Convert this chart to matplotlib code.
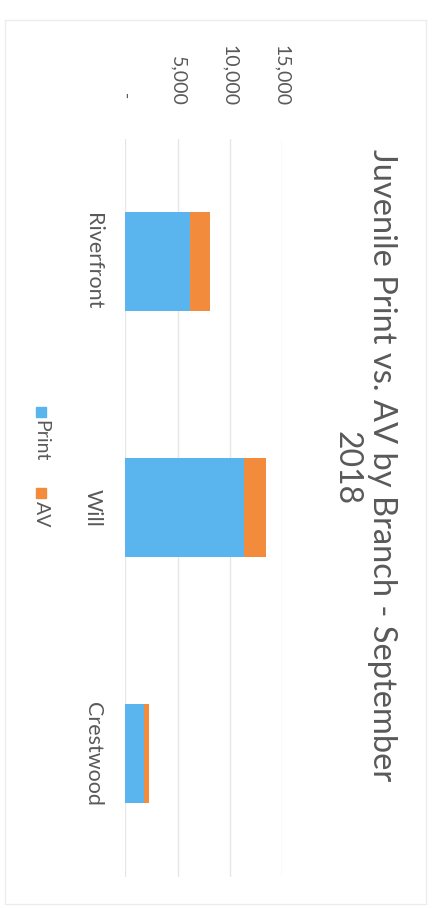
import matplotlib
matplotlib.use("Agg")
import matplotlib.pyplot as plt
from matplotlib.patches import Rectangle
from matplotlib.transforms import blended_transform_factory

# Data
branches = ["Riverfront", "Will", "Crestwood"]
print_counts = [6230, 11330, 1800]
av_counts = [1910, 2170, 480]
value_ticks = [0, 5000, 10000, 15000]
value_tick_labels = ["-", "5,000", "10,000", "15,000"]
title_lines = ["Juvenile Print vs. AV by Branch - September", "2018"]
series_names = ["Print", "AV"]

blue = "#5ab4ee"
orange = "#f28b3c"
text_col = "#595959"
grid_col = "#e6e6e6"
font = "Lato"

W, H = 435, 909
fig = plt.figure(figsize=(W / 100, H / 100), dpi=100)
fig.patch.set_facecolor("white")


def fx(px):
    return px / W


def fy(py):
    return 1 - py / H


# faint outer chart border
fig.patches.append(Rectangle((fx(5), fy(904)), fx(426) - fx(5), fy(20) - fy(904),
                             transform=fig.transFigure, fill=False,
                             edgecolor="#ececec", linewidth=1.0))

# plot area: values run left→right, categories top→bottom (page turned sideways)
left, right = 125.5, 282.0
top, bottom = 138.5, 876.5
ax = fig.add_axes([fx(left), fy(bottom), fx(right) - fx(left), fy(top) - fy(bottom)])
ax.set_xlim(0, 15000)
ax.set_ylim(len(branches) - 0.5, -0.5)

ypos = list(range(len(branches)))
ax.barh(ypos, print_counts, height=0.4, color=blue, zorder=3)
ax.barh(ypos, av_counts, left=print_counts, height=0.4, color=orange, zorder=3)

for v in value_ticks:
    ax.axvline(v, color=grid_col, linewidth=1.0, zorder=1)

for s in ax.spines.values():
    s.set_visible(False)
ax.set_xticks([])
ax.set_yticks([])

# value axis labels along the top, reading downward
trans = blended_transform_factory(ax.transData, fig.transFigure)
for v, lab in zip(value_ticks, value_tick_labels):
    if lab == "-":
        ax.text(v, fy(96), lab, transform=trans, rotation=-90, ha="center",
                va="center", fontsize=12, color=text_col, family=font)
    else:
        ax.text(v, fy(106), lab, transform=trans, rotation=-90, ha="center",
                va="bottom", fontsize=14, color=text_col, family=font)

# category labels on the left
transc = blended_transform_factory(fig.transFigure, ax.transData)
for i, name in enumerate(branches):
    ax.text(fx(93), i, name, transform=transc, rotation=-90, ha="center",
            va="center", fontsize=15.5, color=text_col, family=font)

# title on the right
fig.text(fx(382), fy(465), title_lines[0], rotation=-90, ha="center", va="center",
         fontsize=23.5, color=text_col, family=font)
fig.text(fx(347), fy(468), title_lines[1], rotation=-90, ha="center", va="center",
         fontsize=23, color=text_col, family=font)

# legend
sq = 10
for (name, col, sq_y, txt_y) in [(series_names[0], blue, 407, 441),
                                 (series_names[1], orange, 488, 514)]:
    fig.patches.append(Rectangle((fx(36), fy(sq_y + sq)), fx(sq), sq / H,
                                 transform=fig.transFigure, color=col))
    fig.text(fx(41), fy(txt_y), name, rotation=-90, ha="center", va="center",
             fontsize=14, color=text_col, family=font)

fig.savefig("out.png", dpi=100, facecolor="white")
